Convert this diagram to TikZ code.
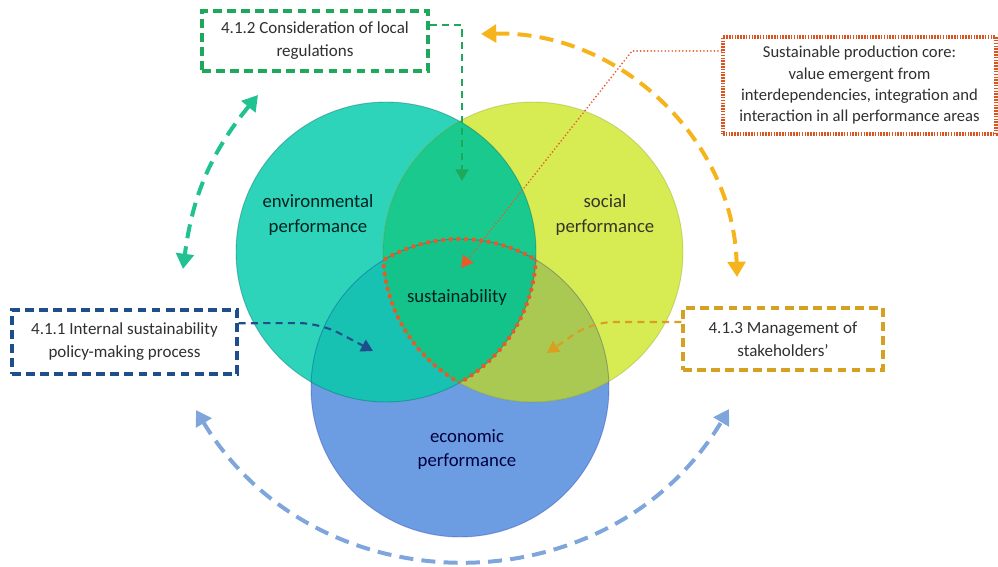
\documentclass[tikz,border=0pt]{standalone}
\usepackage{fontspec}
\setmainfont{Carlito}
\usepackage{xcolor}
\usepackage{tikz}
\usetikzlibrary{arrows.meta, positioning}

\definecolor{envcol}{HTML}{2ED4B9}
\definecolor{soccol}{HTML}{D6EC52}
\definecolor{ecocol}{HTML}{6C9DE2}
\definecolor{envsoccol}{HTML}{19C98D}
\definecolor{envecocol}{HTML}{17C2B3}
\definecolor{sococol}{HTML}{A9C952}
\definecolor{allcol}{HTML}{13C389}
\definecolor{regcol}{HTML}{1EA85C}
\definecolor{polcol}{HTML}{1F4E8C}
\definecolor{stkcol}{HTML}{D6A123}
\definecolor{prodcol}{HTML}{D9541F}
\definecolor{dotcol}{HTML}{E85A28}
\definecolor{cyclegreen}{HTML}{1FC290}
\definecolor{cyclegold}{HTML}{F6B41C}
\definecolor{cycleblue}{HTML}{7EA6DC}
\definecolor{boxtext}{HTML}{303030}

\tikzstyle{topic} = [rectangle, align=center, text=boxtext, font=\fontsize{14.5}{19.6}\selectfont, line width=2.8pt, dash pattern=on 7.5pt off 4.5pt, fill=white]
\tikzstyle{corebox} = [rectangle, align=center, text=boxtext, font=\fontsize{14.2}{18.2}\selectfont, line width=2.6pt, dash pattern=on 1.3pt off 1.1pt, draw=prodcol, fill=white]
\tikzstyle{venntext} = [align=center, font=\fontsize{16}{20.5}\selectfont]
\tikzstyle{link} = [line width=1.8pt, dash pattern=on 6pt off 4.5pt, rounded corners=18pt, -{Triangle[length=10pt,width=11pt]}]
\tikzstyle{cyclearrow} = [line width=3.4pt, dash pattern=on 12pt off 7pt, {Triangle[length=13pt,width=15pt]}-{Triangle[length=13pt,width=15pt]}]
\tikzstyle{coreline} = [line width=3.8pt, dash pattern=on 0pt off 6.5pt, line cap=round, draw=dotcol]

\def\envcircle{(386,252) circle[radius=150]}
\def\soccircle{(533,252) circle[radius=150]}
\def\ecocircle{(460,388) circle[radius=149]}

\begin{document}
\begin{tikzpicture}[x=0.03cm, y=-0.03cm]
    \useasboundingbox (0,0) rectangle (998,567);

    % the three performance areas
    \fill[ecocol] \ecocircle;
    \fill[envcol] \envcircle;
    \fill[soccol] \soccircle;
    \begin{scope}
        \clip \envcircle;
        \fill[envsoccol] \soccircle;
        \fill[envecocol] \ecocircle;
    \end{scope}
    \begin{scope}
        \clip \soccircle;
        \fill[sococol] \ecocircle;
    \end{scope}
    \begin{scope}
        \clip \envcircle;
        \clip \soccircle;
        \fill[allcol] \ecocircle;
    \end{scope}
    \draw[teal!70!black, opacity=0.35, line width=0.8pt] \envcircle;
    \draw[olive!80!black, opacity=0.25, line width=0.8pt] \soccircle;
    \draw[blue!60!black, opacity=0.25, line width=0.8pt] \ecocircle;

    % dotted outline of the shared core
    \begin{scope}
        \clip \envcircle; \clip \soccircle;
        \draw[coreline] \ecocircle;
    \end{scope}
    \begin{scope}
        \clip \soccircle; \clip \ecocircle;
        \draw[coreline] \envcircle;
    \end{scope}
    \begin{scope}
        \clip \envcircle; \clip \ecocircle;
        \draw[coreline] \soccircle;
    \end{scope}

    \node (envlab) [venntext, text=black!75!teal] at (318,215) {environmental\\performance};
    \node (soclab) [venntext, text=black!80!olive] at (605,215) {social\\performance};
    \node (corelab) [venntext, text=black!75!teal] at (457,298) {sustainability};
    \node (ecolab) [venntext, text=black!75!blue] at (467,450) {economic\\performance};

    \node (reg) [topic, draw=regcol, minimum width=6.78cm, minimum height=1.8cm] at (315,41) {4.1.2 Consideration of local\\regulations};
    \node (pol) [topic, draw=polcol, minimum width=6.75cm, minimum height=1.92cm] at (124.5,342) {4.1.1 Internal sustainability\\policy-making process};
    \node (stk) [topic, draw=stkcol, minimum width=6cm, minimum height=1.86cm] at (783,339) {4.1.3 Management of\\stakeholders’};
    \node (core) [corebox, minimum width=8.19cm, minimum height=2.91cm] at (859.5,85.5) {Sustainable production core:\\value emergent from\\interdependencies, integration and\\interaction in all performance areas};

    \coordinate (regtip) at (462,181);
    \coordinate (poltip) at (373,351);
    \coordinate (stktip) at (547,353);
    \coordinate (coretip) at (461,268);
    \coordinate (gA) at (258,95);
    \coordinate (gB) at (183,269);
    \coordinate (oA) at (481,34);
    \coordinate (oB) at (737,277);
    \coordinate (bA) at (196,410);
    \coordinate (bB) at (729,409);

    \draw [link, draw=regcol, rounded corners=0pt] ([yshift=13.7pt]reg.east) -| (regtip);
    \draw [link, draw=polcol] ([yshift=16pt]pol.east) -- (320,323) -- (poltip);
    \draw [link, draw=stkcol!90!orange] ([yshift=14.5pt]stk.west) -- (592,322) -- (stktip);
    \draw [coreline, line width=1.6pt, dash pattern=on 0pt off 3pt, -{Triangle[length=10pt,width=11pt]}] ([yshift=29.5pt]core.west) -- (632,51) -- (coretip);

    \draw [cyclearrow, draw=cyclegreen] (gA) to[bend right=16] (gB);
    \draw [cyclearrow, draw=cyclegold] (oA) to[bend left=45] (oB);
    \draw [cyclearrow, draw=cycleblue] (bA) to[bend right=59, looseness=1.12] (bB);
\end{tikzpicture}
\end{document}
